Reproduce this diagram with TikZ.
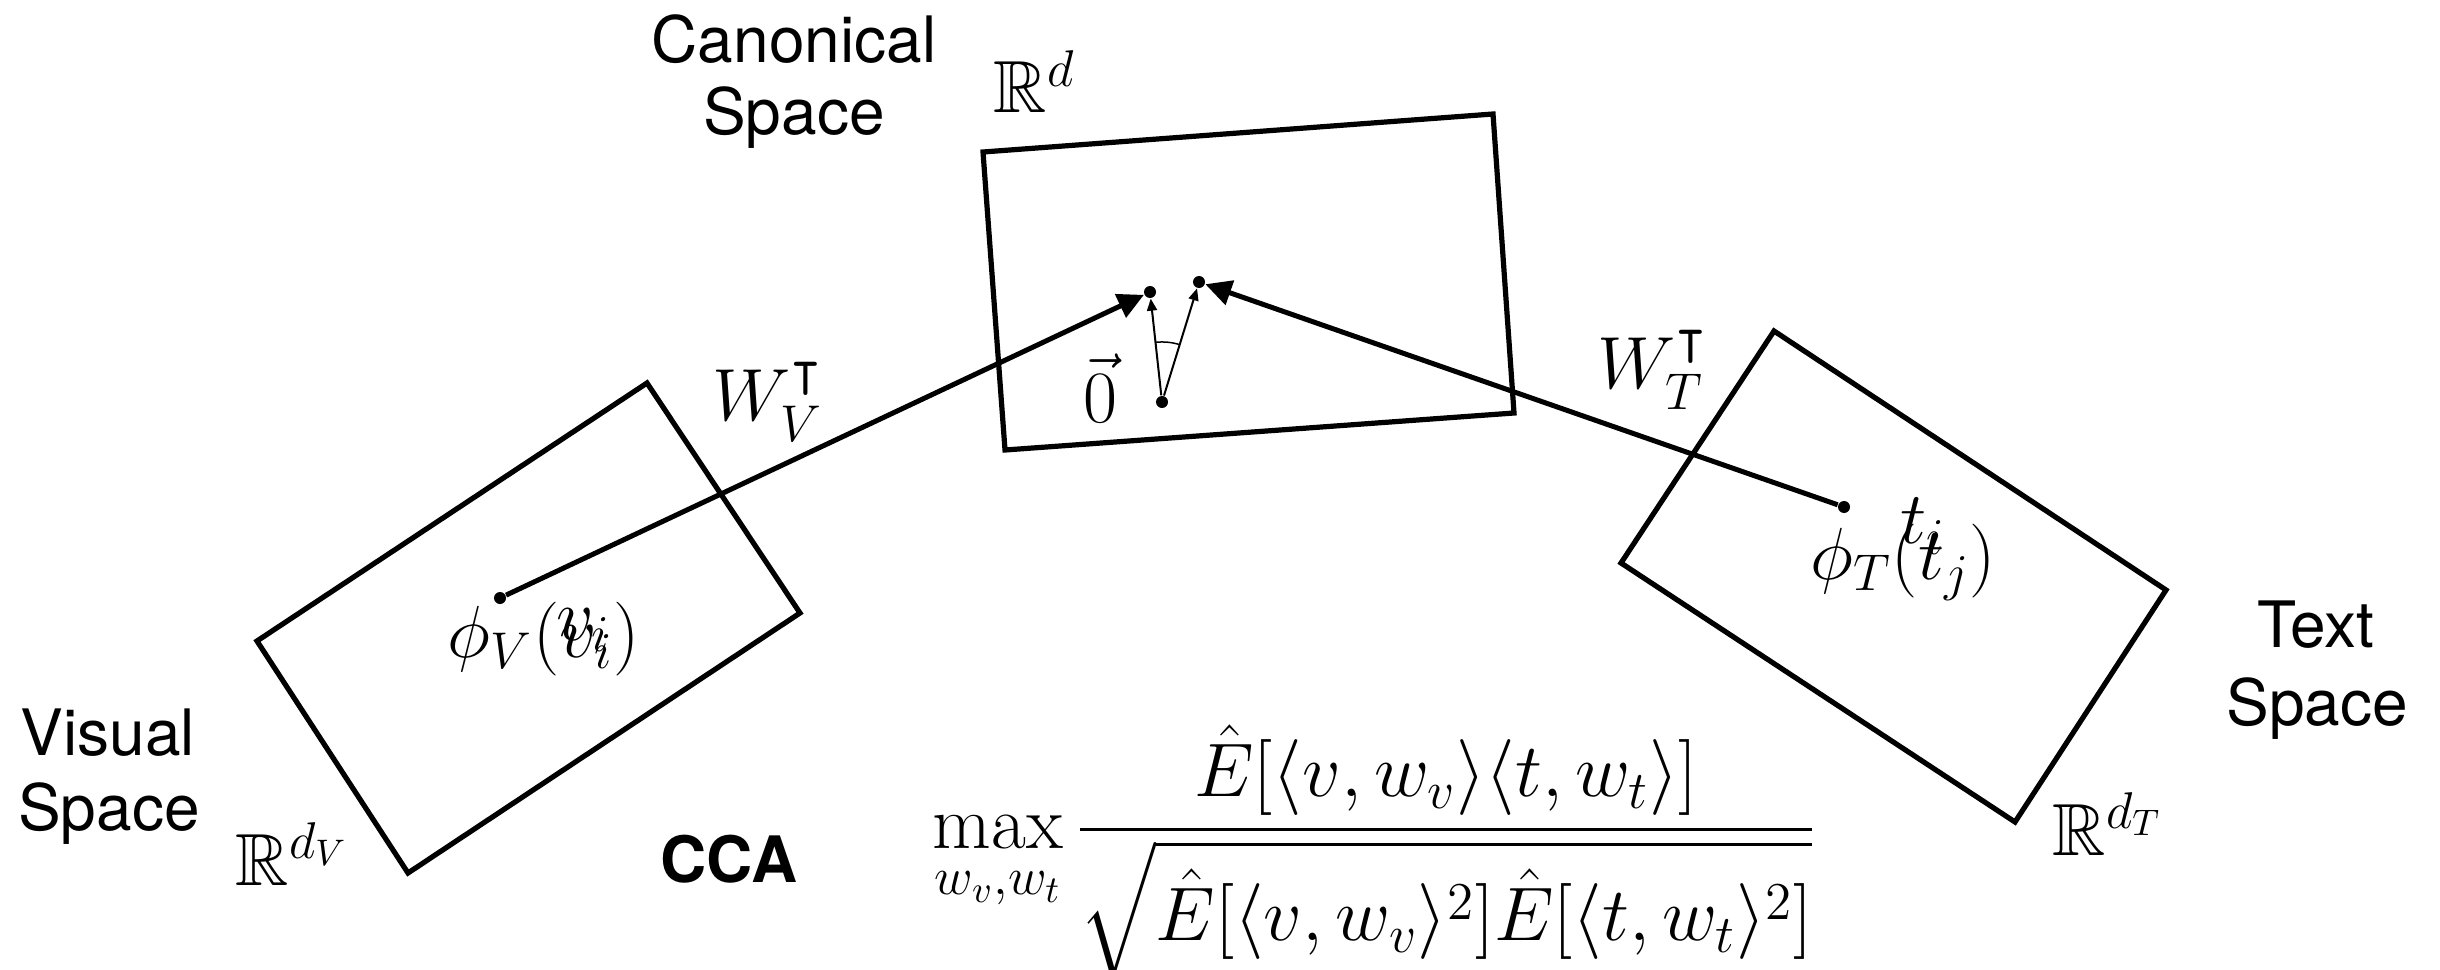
\RequirePackage{fix-cm}
\documentclass[tikz,border=0pt]{standalone}
\usepackage{amsmath,amssymb}
\usepackage{fontspec}
\newfontfamily\helv{TeX Gyre Heros}
\usetikzlibrary{arrows.meta,angles}
\begin{document}
\begin{tikzpicture}[x=0.01cm,y=-0.01cm,
  spacebox/.style={draw,line width=0.052cm,line join=miter},
  dot/.style={circle,fill,inner sep=0pt,minimum size=0.12cm},
  bigarrow/.style={line width=0.05cm,-{Triangle[length=0.26cm,width=0.25cm]}},
  smallarrow/.style={line width=0.02cm,-{Triangle[length=0.12cm,width=0.1cm]}},
  lab/.style={font=\helv\fontsize{18.2}{22}\selectfont,inner sep=0pt},
  mlab/.style={font=\fontsize{21}{25}\selectfont,inner sep=0pt},
]
\useasboundingbox (0,0) rectangle (2440,970);

% spaces
\draw[spacebox] (983,152) -- (1493,114) -- (1514,413) -- (1005,450) -- cycle;
\draw[spacebox] (257,641) -- (647,383) -- (800,613) -- (408,873) -- cycle;
\draw[spacebox] (1774,331) -- (2166,590) -- (2015,822) -- (1621,563) -- cycle;

% points
\node[dot] (pv) at (500,598) {};
\node[dot] (pt) at (1844,507) {};
\node[dot] (lv) at (1150,292) {};
\node[dot] (lt) at (1199,282) {};
\node[dot] (o) at (1162,402) {};

% connectors
\draw[bigarrow] (pv) -- (lv);
\draw[bigarrow] (pt) -- (lt);
\draw[smallarrow] (o) -- (lv);
\draw[smallarrow] (o) -- (lt);
\pic[draw,line width=0.015cm,angle radius=0.6cm] {angle=lt--o--lv};

% math labels
\node[mlab,anchor=base west] (phiv) at (447,657) {$\phi_V(v_i)$};
\node[mlab,anchor=base west] (vi) at (556,640) {$v_i$};
\node[mlab,anchor=base west] (phit) at (1810,579) {$\phi_T(t_j)$};
\node[mlab,anchor=base west] (ti) at (1900,543) {$t_i$};
\node[mlab,anchor=base west] (wv) at (712,420) {$W_V^{\intercal}$};
\node[mlab,anchor=base west] (wt) at (1597,388) {$W_T^{\intercal}$};
\node[mlab,anchor=base west] (zero) at (1083,422) {$\vec{0}$};
\node[mlab,anchor=base west] (rd) at (993,113) {$\mathbb{R}^d$};
\node[mlab,anchor=base west] (rdv) at (235,885) {$\mathbb{R}^{d_V}$};
\node[mlab,anchor=base west] (rdt) at (2052,855) {$\mathbb{R}^{d_T}$};

% text labels
\node[lab,anchor=base] (can1) at (794,63) {Canonical};
\node[lab,anchor=base] (can2) at (794,135) {Space};
\node[lab,anchor=base] (vis1) at (108,755) {Visual};
\node[lab,anchor=base] (vis2) at (109,830) {Space};
\node[lab,anchor=base] (txt1) at (2316,647) {Text};
\node[lab,anchor=base] (txt2) at (2317,725) {Space};
\node[lab,font=\helv\bfseries\fontsize{18.2}{22}\selectfont,anchor=base west] (cca) at (660,882) {CCA};

% CCA objective
\node[inner sep=0pt,font=\fontsize{21.6}{26}\selectfont,anchor=base west] (objective) at (932,848) {$\displaystyle\max_{w_v,w_t}\frac{\hat{E}[\langle v,w_v\rangle\langle t,w_t\rangle]}{\sqrt{\hat{E}[\langle v,w_v\rangle^2]\hat{E}[\langle t,w_t\rangle^2]}}$};
\end{tikzpicture}
\end{document}
